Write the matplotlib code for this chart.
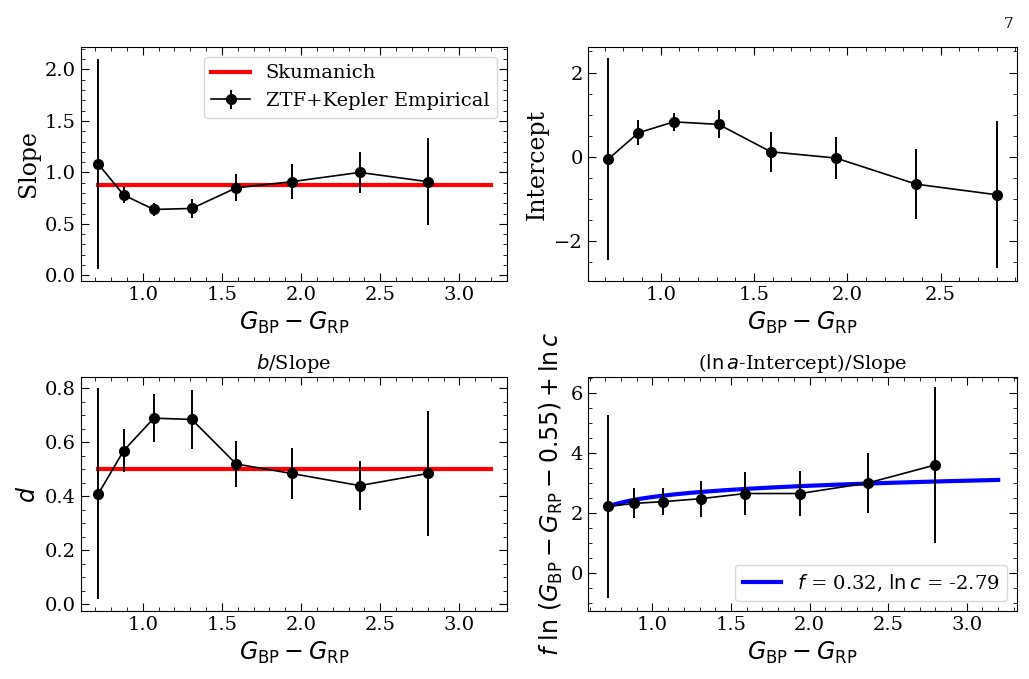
import numpy as np
import matplotlib.pyplot as plt
from matplotlib.ticker import MultipleLocator

color = [0.72, 0.88, 1.07, 1.31, 1.59, 1.94, 2.37, 2.80]
slope = [1.08, 0.78, 0.64, 0.65, 0.85, 0.91, 1.00, 0.91]
slope_err = [1.02, 0.08, 0.06, 0.09, 0.13, 0.17, 0.20, 0.42]
intercept = [-0.05, 0.57, 0.83, 0.77, 0.12, -0.03, -0.65, -0.90]
intercept_err = [2.40, 0.30, 0.22, 0.33, 0.47, 0.50, 0.83, 1.75]
d_vals = [0.41, 0.57, 0.69, 0.685, 0.52, 0.485, 0.44, 0.485]
d_err = [0.39, 0.08, 0.09, 0.11, 0.085, 0.095, 0.09, 0.23]
age_term = [2.22, 2.32, 2.38, 2.48, 2.65, 2.65, 3.00, 3.60]
age_err = [3.05, 0.50, 0.45, 0.60, 0.70, 0.75, 1.00, 2.60]
skumanich_slope = 0.88
skumanich_d = 0.5
f_fit, lnc_fit = 0.32, -2.79

plt.rcParams['font.family'] = 'DejaVu Serif'
plt.rcParams['mathtext.fontset'] = 'dejavusans'
plt.rcParams['font.size'] = 14

fig = plt.figure(figsize=(10.29, 6.79), dpi=100)
ax1 = fig.add_axes([0.0787, 0.586, 0.414, 0.345])
ax2 = fig.add_axes([0.5714, 0.586, 0.417, 0.345])
ax3 = fig.add_axes([0.0787, 0.100, 0.414, 0.345])
ax4 = fig.add_axes([0.5714, 0.100, 0.417, 0.345])
fig.text(0.985, 0.975, "7", ha='right', va='top', fontsize=11)

xlab = r'$G_{\rm BP}-G_{\rm RP}$'
ek = dict(fmt='o-', color='k', ms=7, lw=1.2, elinewidth=1.4, capsize=0)

ax1.plot([color[0], 3.2], [skumanich_slope] * 2, color='red', lw=3, label='Skumanich')
ax1.errorbar(color, slope, yerr=slope_err, label='ZTF+Kepler Empirical', **ek)
ax1.set_xlim(0.61, 3.30); ax1.set_ylim(-0.056, 2.22)
ax1.set_ylabel('Slope', fontsize=17)
ax1.yaxis.set_major_locator(MultipleLocator(0.5)); ax1.yaxis.set_minor_locator(MultipleLocator(0.1))
ax1.legend(loc='upper right', fontsize=14)

ax2.errorbar(color, intercept, yerr=intercept_err, **ek)
ax2.set_xlim(0.61, 2.91); ax2.set_ylim(-2.95, 2.61)
ax2.set_ylabel('Intercept', fontsize=17)
ax2.yaxis.set_major_locator(MultipleLocator(2)); ax2.yaxis.set_minor_locator(MultipleLocator(0.5))

ax3.plot([color[0], 3.2], [skumanich_d] * 2, color='red', lw=3)
ax3.errorbar(color, d_vals, yerr=d_err, **ek)
ax3.set_xlim(0.61, 3.30); ax3.set_ylim(-0.025, 0.843)
ax3.set_ylabel(r'$d$', fontsize=17)
ax3.set_title(r'$b$/Slope', fontsize=14)
ax3.yaxis.set_major_locator(MultipleLocator(0.2)); ax3.yaxis.set_minor_locator(MultipleLocator(0.05))

xx = np.linspace(color[0], 3.2, 200)
ax4.plot(xx, f_fit * np.log(xx - 0.55) - lnc_fit, color='blue', lw=3,
         label=r'$f$ = 0.32, $\ln c$ = -2.79')
ax4.errorbar(color, age_term, yerr=age_err, **ek)
ax4.set_xlim(0.59, 3.32); ax4.set_ylim(-1.26, 6.53)
ax4.set_ylabel(r'$f\ \ln\,(G_{\rm BP}-G_{\rm RP}-0.55)+\ln c$', fontsize=17)
ax4.set_title(r'($\ln a$-Intercept)/Slope', fontsize=14)
ax4.yaxis.set_major_locator(MultipleLocator(2)); ax4.yaxis.set_minor_locator(MultipleLocator(0.5))
ax4.legend(loc='lower right', fontsize=14)

for ax in (ax1, ax2, ax3, ax4):
    ax.set_xlabel(xlab, fontsize=17)
    ax.xaxis.set_major_locator(MultipleLocator(0.5)); ax.xaxis.set_minor_locator(MultipleLocator(0.1))
    ax.tick_params(which='both', direction='in', top=True, right=True, labelsize=14)
    ax.tick_params(which='major', length=6)
    ax.tick_params(which='minor', length=3)

fig.savefig('out.png', dpi=100)
